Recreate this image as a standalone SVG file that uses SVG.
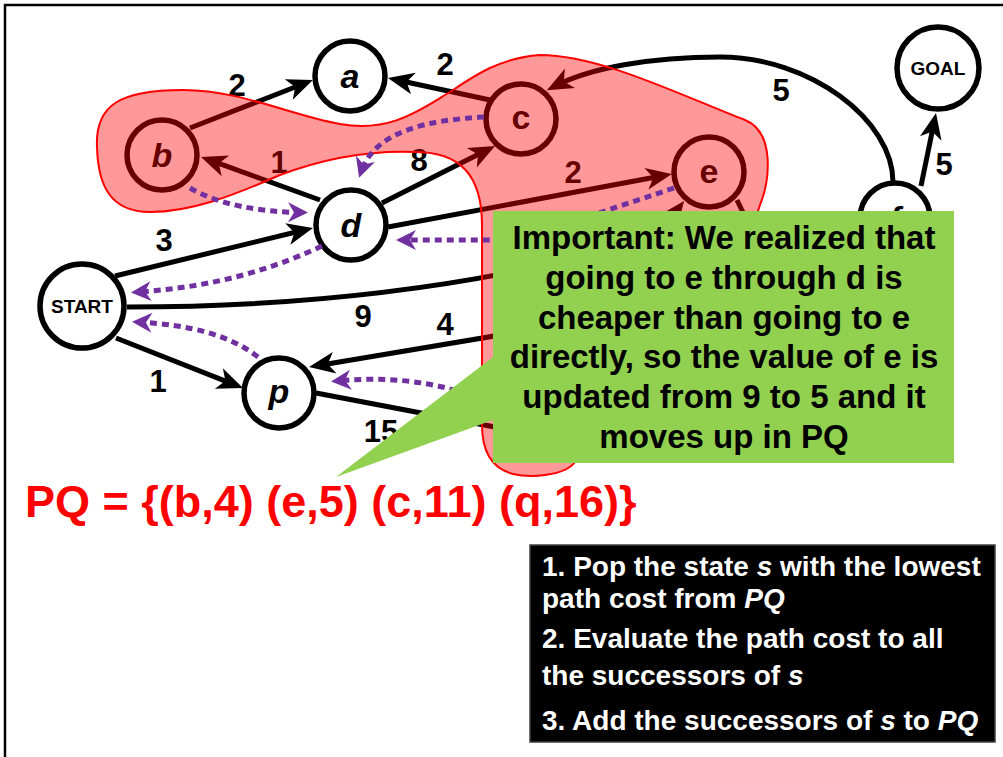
<svg xmlns="http://www.w3.org/2000/svg" width="1003" height="757" viewBox="0 0 1003 757">
<style>
.edge{fill:none;stroke:#000;stroke-width:5;marker-end:url(#ah)}
.edgen{fill:none;stroke:#000;stroke-width:5}
.dot{fill:none;stroke:#7030a0;stroke-width:5;stroke-dasharray:7 5;marker-end:url(#ph)}
.node{fill:#fff;stroke:#000;stroke-width:5.5}
.nl{font-family:"Liberation Sans",Arial,sans-serif;font-weight:bold;font-style:italic;font-size:34px;text-anchor:middle}
.nu{font-family:"Liberation Sans",Arial,sans-serif;font-weight:bold;font-size:34px;text-anchor:middle}
.ns{font-family:"Liberation Sans",Arial,sans-serif;font-weight:bold;font-size:19px;text-anchor:middle}
.el{font-family:"Liberation Sans",Arial,sans-serif;font-weight:bold;font-size:31px;text-anchor:middle}
.gt{font-family:"Liberation Sans",Arial,sans-serif;font-weight:bold;font-size:33px;text-anchor:middle}
.bt{font-family:"Liberation Sans",Arial,sans-serif;font-weight:bold;font-size:28px;fill:#fff}
.pq{font-family:"Liberation Sans",Arial,sans-serif;font-weight:bold;font-size:45px;fill:#ff0000}
</style>
<defs>
<marker id="ah" markerUnits="userSpaceOnUse" markerWidth="40" markerHeight="30" viewBox="-20 -15 40 30" refX="0" refY="0" orient="auto" overflow="visible">
<path d="M-18,-11 L8,0 L-18,11 L-11,0 Z" fill="#000"/>
</marker>
<marker id="ph" markerUnits="userSpaceOnUse" markerWidth="40" markerHeight="30" viewBox="-20 -15 40 30" refX="0" refY="0" orient="auto" overflow="visible">
<path d="M-14,-10 L6,0 L-14,10 L-8,0 Z" fill="#7030a0"/>
</marker>
</defs>
<rect width="1003" height="757" fill="#fff"/>
<path d="M5,757 V5 H1003" fill="none" stroke="#000" stroke-width="2.5"/>

<g id="connectors">
<path class="edge" d="M190,128 L305.5,83"/>
<path class="edge" d="M490,100 L395.8,79.7"/>
<path class="edge" d="M320,200 L208.5,159.7"/>
<path class="edge" d="M382,203 L487.9,149.6"/>
<path class="edge" d="M388,227 L664.1,175.5"/>
<path class="edge" d="M115,276 L305.2,229.8"/>
<path class="edgen" d="M127,307 C250,307 400,298 560,262"/>
<path class="edge" d="M560,325 L316.9,365.7"/>
<path class="edge" d="M116,338 L235.6,385.1"/>
<path class="edgen" d="M316,393 L600,447"/>
<path class="edge" d="M893,182 C893,120 810,57 720,57 C650,57 590,68 554,86.5"/>
<path class="edge" d="M921,186 L934.4,120.8"/>
<path class="edgen" d="M737,200 L785,300"/>
<path class="edge" d="M620,285 L679.2,207.4"/>
</g>

<g id="edge-labels">
<text class="el" x="237" y="96">2</text>
<text class="el" x="445" y="75">2</text>
<text class="el" x="279" y="173">1</text>
<text class="el" x="419" y="171">8</text>
<text class="el" x="573" y="183">2</text>
<text class="el" x="164" y="251">3</text>
<text class="el" x="363" y="327">9</text>
<text class="el" x="445" y="335">4</text>
<text class="el" x="158" y="392">1</text>
<text class="el" x="381" y="442">15</text>
<text class="el" x="781" y="101">5</text>
<text class="el" x="944" y="175">5</text>
</g>

<g id="node-a"><circle class="node" cx="350" cy="76" r="35"/><text class="nl" x="350" y="88">a</text></g>
<g id="node-b"><circle class="node" cx="162" cy="155" r="35"/><text class="nl" x="162" y="167">b</text></g>
<g id="node-c"><circle class="node" cx="521" cy="119" r="35"/><text class="nu" x="521" y="129">c</text></g>
<g id="node-d"><circle class="node" cx="351" cy="225" r="35"/><text class="nl" x="351" y="237">d</text></g>
<g id="node-e"><circle class="node" cx="709" cy="172" r="35"/><text class="nu" x="709" y="183">e</text></g>
<g id="node-p"><circle class="node" cx="279" cy="393" r="35"/><text class="nl" x="279" y="403">p</text></g>
<g id="node-f"><circle class="node" cx="895" cy="218" r="35"/><text class="nl" x="895" y="230">f</text></g>
<g id="node-start"><circle class="node" cx="82" cy="306" r="42"/><text class="ns" x="82" y="313">START</text></g>
<g id="node-goal"><circle class="node" cx="938" cy="68" r="41"/><text class="ns" x="938" y="75">GOAL</text></g>

<path id="explored" d="M97,147 C95,105 120,90 183,90 C240,90 290,115 340,124 C390,133 420,110 450,92 C475,75 500,58 540,55 C600,55 680,95 745,120 C775,132 770,180 760,205 L700,380 L575,462 C565,476 530,478 513,474 C490,468 482,450 482,425 L482,225 C482,175 460,152 415,152 C365,150 320,160 280,175 C230,197 190,212 150,212 C110,212 98,185 97,147 Z" fill="#ff0000" fill-opacity="0.4" stroke="#ff0000" stroke-width="2"/>

<g id="back-pointers">
<path class="dot" d="M190,188 C220,205 260,212 302,212.5"/>
<path class="dot" d="M484,117 C430,120 375,130 361,172"/>
<path class="dot" d="M322,246 C260,275 200,288 137,292"/>
<path class="dot" d="M674,188 L560,226 L500,240 L402,240"/>
<path class="dot" d="M258,357 C230,335 190,325 138,322"/>
<path class="dot" d="M500,410 C460,385 400,375 337,381"/>
</g>

<g id="callout">
<path d="M493,211 H954 V463 H493 V420 L336,477 L493,357 Z" fill="#92d050"/>
<text class="gt" x="724" y="249">Important: We realized that</text>
<text class="gt" x="724" y="289">going to e through d is</text>
<text class="gt" x="724" y="328.5">cheaper than going to e</text>
<text class="gt" x="724" y="368">directly, so the value of e is</text>
<text class="gt" x="724" y="408">updated from 9 to 5 and it</text>
<text class="gt" x="724" y="448">moves up in PQ</text>
</g>

<text id="pq" class="pq" x="25" y="517">PQ = {(b,4) (e,5) (c,11) (q,16)}</text>

<g id="steps">
<rect x="530" y="545" width="465" height="197" fill="#000" stroke="#404040" stroke-width="1.5"/>
<text class="bt" x="542" y="576">1. Pop the state <tspan font-style="italic">s</tspan> with the lowest</text>
<text class="bt" x="542" y="608">path cost from <tspan font-style="italic">PQ</tspan></text>
<text class="bt" x="542" y="648">2. Evaluate the path cost to all</text>
<text class="bt" x="542" y="685">the successors of <tspan font-style="italic">s</tspan></text>
<text class="bt" x="542" y="730">3. Add the successors of <tspan font-style="italic">s</tspan> to <tspan font-style="italic">PQ</tspan></text>
</g>
</svg>
